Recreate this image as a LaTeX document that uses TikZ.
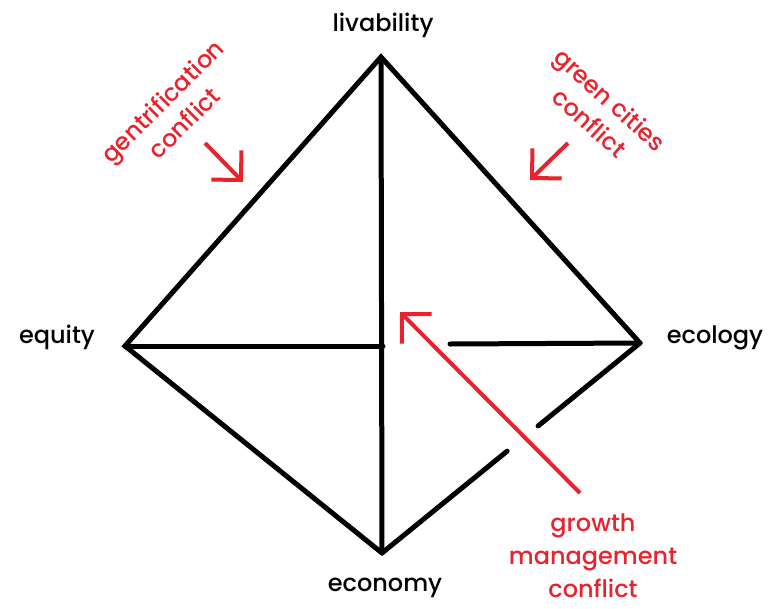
\documentclass[tikz,border=0pt]{standalone}
\usepackage{fontspec}
\setmainfont{Poppins}[UprightFont=* Medium]
\usetikzlibrary{arrows.meta,calc}
\definecolor{conflictred}{RGB}{232,35,45}
\begin{document}
\begin{tikzpicture}[x=1pt,y=-1pt,
    edge/.style={line width=5pt,line cap=round},
    pillar/.style={font=\fontsize{24}{28}\selectfont},
    conflict/.style={conflictred,line width=4pt,-{Straight Barb[length=21pt,width=42pt]}},
    clabel/.style={conflictred,align=center,font=\fontsize{24}{31}\selectfont}]
    \useasboundingbox (0,0) rectangle (773,608);
    % corners of the diamond
    \coordinate (liv) at (381,57);
    \coordinate (equ) at (125,346);
    \coordinate (ecol) at (640,343);
    \coordinate (econ) at (382,553);
    \node[pillar] (livlabel) at (383,25) {livability};
    \node[pillar] (equlabel) at (57,337) {equity};
    \node[pillar] (ecollabel) at (715,338) {ecology};
    \node[pillar] (econlabel) at (385,588) {economy};
    % outline and axes
    \draw[edge] (econ) -- (equ) -- (liv) -- (ecol);
    \draw[edge] (liv) -- (econ);
    \draw[edge] (equ) -- (383,346);
    \coordinate (hgap) at (450,344);
    \draw[edge] (hgap) -- (ecol);
    \coordinate (gapa) at ($(econ)!0.485!(ecol)$);
    \coordinate (gapb) at ($(econ)!0.605!(ecol)$);
    \draw[edge] (econ) -- (gapa);
    \draw[edge] (gapb) -- (ecol);
    % conflicts
    \node[clabel,rotate=45] (gentri) at (173,112) {gentrification\\conflict};
    \coordinate (gentritip) at (243,182);
    \draw[conflict] (205,143) -- (gentritip);
    \node[clabel,rotate=-42] (green) at (600,111) {green cities\\conflict};
    \coordinate (greentip) at (530,180);
    \draw[conflict] (568,143) -- (greentip);
    \node[clabel,font=\fontsize{24}{33}\selectfont] (growth) at (593,556) {growth\\management\\conflict};
    \coordinate (growthtip) at (400,312);
    \draw[conflict] (580,493) -- (growthtip);
\end{tikzpicture}
\end{document}
